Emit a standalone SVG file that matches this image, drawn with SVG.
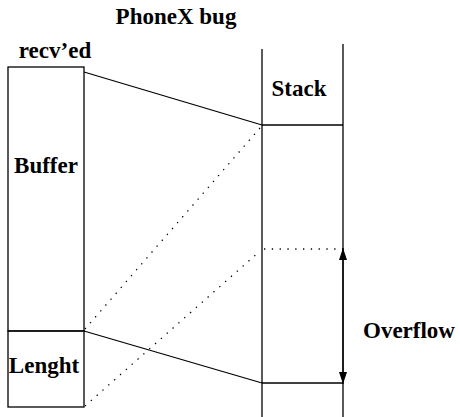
<svg xmlns="http://www.w3.org/2000/svg" width="460" height="417" viewBox="0 0 460 417">
<style>
text{font-family:"Liberation Serif","Times New Roman",serif;font-weight:bold;font-size:23px;fill:#000}
.s{stroke:#000;stroke-width:1.3;fill:none}
.d{stroke:#000;stroke-width:1.3;fill:none;stroke-dasharray:1.3 6.5}
</style>
<defs>
<marker id="ah" markerWidth="12" markerHeight="8" refX="12" refY="4" orient="auto" markerUnits="userSpaceOnUse">
<path d="M0,0 L12,4 L0,8 Z" fill="#000"/>
</marker>
</defs>
<rect width="460" height="417" fill="#fff"/>
<g id="title"><text x="176" y="24" text-anchor="middle">PhoneX bug</text></g>
<g id="recved">
<text x="55" y="58" text-anchor="middle">recv’ed</text>
</g>
<g id="buffer">
<rect class="s" x="8" y="67" width="76" height="264"/>
<text x="46" y="173" text-anchor="middle">Buffer</text>
</g>
<g id="lenght">
<rect class="s" x="8" y="331" width="76" height="76"/>
<text x="44" y="373" text-anchor="middle">Lenght</text>
</g>
<g id="stack">
<line class="s" x1="262" y1="49" x2="262" y2="417"/>
<line class="s" x1="343" y1="44" x2="343" y2="417"/>
<line class="s" x1="262" y1="125" x2="343" y2="125"/>
<line class="s" x1="262" y1="383" x2="343" y2="383"/>
<text x="299" y="96" text-anchor="middle">Stack</text>
</g>
<g id="overflow">
<line class="d" x1="264" y1="249" x2="343" y2="249"/>
<text x="409" y="338" text-anchor="middle">Overflow</text>
</g>
<g id="connectors">
<line class="s" x1="84" y1="72" x2="262" y2="125"/>
<line class="s" x1="84" y1="331" x2="262" y2="383"/>
<line class="d" x1="85" y1="329" x2="260" y2="128"/>
<line class="d" x1="85" y1="406" x2="260" y2="251"/>
<line class="s" x1="343" y1="316" x2="343" y2="248" marker-end="url(#ah)"/>
<line class="s" x1="343" y1="316" x2="343" y2="384" marker-end="url(#ah)"/>
</g>
</svg>
